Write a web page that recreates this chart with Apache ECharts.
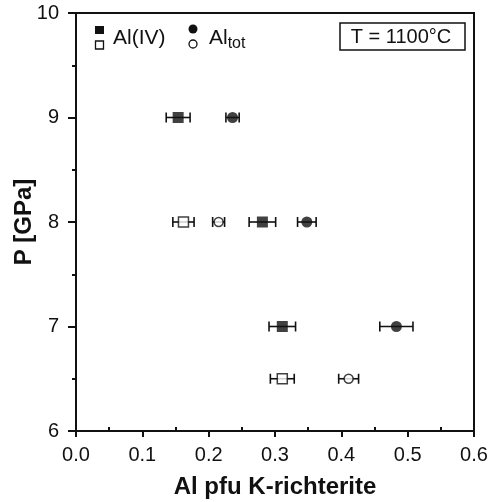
<!DOCTYPE html>
<html><head><meta charset="utf-8">
<script src="https://cdn.jsdelivr.net/npm/echarts@6/dist/echarts.min.js"></script>
<style>html,body{margin:0;padding:0;background:#fff}#c{width:490px;height:502px}</style>
</head><body><div id="c"></div>
<script>
// Al(IV), filled squares
const alIVFilledP = [9, 8, 7];
const alIVFilledX = [0.154, 0.281, 0.311];
const alIVFilledErr = [0.018, 0.020, 0.020];
// Al(IV), open squares
const alIVOpenP = [8, 6.5];
const alIVOpenX = [0.162, 0.311];
const alIVOpenErr = [0.016, 0.018];
// Al tot, filled circles
const alTotFilledP = [9, 8, 7];
const alTotFilledX = [0.236, 0.348, 0.483];
const alTotFilledErr = [0.010, 0.014, 0.025];
// Al tot, open circles
const alTotOpenP = [8, 6.5];
const alTotOpenX = [0.215, 0.411];
const alTotOpenErr = [0.009, 0.015];

const xTicks = [0.0, 0.1, 0.2, 0.3, 0.4, 0.5, 0.6];
const yTicks = [6, 7, 8, 9, 10];

const FONT = 'Liberation Sans';

function pts(xs, ps) { return xs.map((x, i) => [x, ps[i]]); }
function errs(xs, ps, es) { return xs.map((x, i) => [x - es[i], x + es[i], ps[i]]); }

function errSeries(data) {
  return {
    type: 'custom', xAxisIndex: 0, yAxisIndex: 0, z: 2, silent: true,
    data: data,
    renderItem: function (params, api) {
      const a = api.coord([api.value(0), api.value(2)]);
      const b = api.coord([api.value(1), api.value(2)]);
      const h = 5;
      const st = { stroke: '#111', lineWidth: 1.6 };
      return { type: 'group', children: [
        { type: 'line', shape: { x1: a[0], y1: a[1], x2: b[0], y2: b[1] }, style: st },
        { type: 'line', shape: { x1: a[0], y1: a[1] - h, x2: a[0], y2: a[1] + h }, style: st },
        { type: 'line', shape: { x1: b[0], y1: b[1] - h, x2: b[0], y2: b[1] + h }, style: st }
      ]};
    }
  };
}

function scat(data, symbol, size, filled) {
  return {
    type: 'scatter', xAxisIndex: 0, yAxisIndex: 0, z: 5, silent: true,
    symbol: symbol, symbolSize: size, data: data,
    itemStyle: { color: filled ? '#111' : '#fff', borderColor: '#111', borderWidth: filled ? 0 : 1.5 }
  };
}

const chart = echarts.init(document.getElementById('c'), null, { renderer: 'canvas' });
chart.setOption({
  animation: false,
  backgroundColor: '#fff',
  grid: { left: 76, right: 16, top: 13, bottom: 71, containLabel: false, outerBoundsMode: 'none',
          show: true, borderColor: '#111', borderWidth: 2, backgroundColor: 'transparent' },
  xAxis: [{
    type: 'value', min: xTicks[0], max: xTicks[xTicks.length - 1], interval: 0.1,
    name: 'Al pfu K-richterite', nameLocation: 'middle', nameGap: 44, nameMoveOverlap: false,
    nameTextStyle: { fontFamily: FONT, fontWeight: 'bold', fontSize: 24, color: '#111' },
    axisLine: { lineStyle: { color: '#111', width: 2 } },
    axisTick: { length: 6, lineStyle: { color: '#111', width: 2 } },
    axisLabel: { fontFamily: FONT, fontSize: 20, color: '#111', margin: 14, formatter: v => v.toFixed(1) },
    splitLine: { show: false }
  }, {
    type: 'value', min: xTicks[0], max: xTicks[xTicks.length - 1], interval: 0.1,
    position: 'bottom',
    axisLine: { show: false },
    axisTick: { show: false, inside: true },
    minorTick: { show: true, splitNumber: 2, length: 4, lineStyle: { color: '#111', width: 2 } },
    axisLabel: { show: false },
    splitLine: { show: false }
  }],
  yAxis: [{
    type: 'value', min: yTicks[0], max: yTicks[yTicks.length - 1], interval: 1,
    name: 'P [GPa]', nameLocation: 'middle', nameGap: 40, nameMoveOverlap: false,
    nameTextStyle: { fontFamily: FONT, fontWeight: 'bold', fontSize: 24, color: '#111' },
    axisLine: { lineStyle: { color: '#111', width: 2 } },
    axisTick: { length: 8, lineStyle: { color: '#111', width: 2 } },
    minorTick: { show: true, splitNumber: 2, length: 4, lineStyle: { color: '#111', width: 2 } },
    axisLabel: { fontFamily: FONT, fontSize: 20, color: '#111', margin: 17 },
    splitLine: { show: false }
  }],
  series: [
    errSeries(errs(alIVFilledX, alIVFilledP, alIVFilledErr)),
    errSeries(errs(alIVOpenX, alIVOpenP, alIVOpenErr)),
    errSeries(errs(alTotFilledX, alTotFilledP, alTotFilledErr)),
    errSeries(errs(alTotOpenX, alTotOpenP, alTotOpenErr)),
    scat(pts(alIVFilledX, alIVFilledP), 'rect', 11, true),
    scat(pts(alIVOpenX, alIVOpenP), 'rect', 10, false),
    scat(pts(alTotFilledX, alTotFilledP), 'circle', 11, true),
    scat(pts(alTotOpenX, alTotOpenP), 'circle', 9, false)
  ],
  graphic: [
    { type: 'rect', shape: { x: 95, y: 26, width: 9, height: 8 }, style: { fill: '#111' } },
    { type: 'rect', shape: { x: 95.5, y: 41, width: 8, height: 8 }, style: { fill: '#fff', stroke: '#111', lineWidth: 1.3 } },
    { type: 'text', x: 113, y: 38, style: { text: 'Al(IV)', fontFamily: FONT, fontSize: 21, fill: '#111', verticalAlign: 'middle' } },
    { type: 'circle', shape: { cx: 193, cy: 29, r: 4.5 }, style: { fill: '#111' } },
    { type: 'circle', shape: { cx: 193, cy: 44, r: 4 }, style: { fill: '#fff', stroke: '#111', lineWidth: 1.3 } },
    { type: 'text', x: 209, y: 38, style: {
      text: '{a|Al}{b|tot}', fontFamily: FONT, fill: '#111', verticalAlign: 'middle',
      rich: { a: { fontFamily: FONT, fontSize: 21, color: '#111' }, b: { fontFamily: FONT, fontSize: 16, color: '#111', padding: [11, 0, 0, 0] } }
    } },
    { type: 'rect', shape: { x: 340, y: 23, width: 125, height: 27 }, style: { fill: '#fff', stroke: '#111', lineWidth: 1.5 } },
    { type: 'text', x: 401, y: 37.5, style: { text: 'T = 1100°C', fontFamily: FONT, fontSize: 20, fill: '#111', align: 'center', verticalAlign: 'middle' } }
  ]
});
</script></body></html>
